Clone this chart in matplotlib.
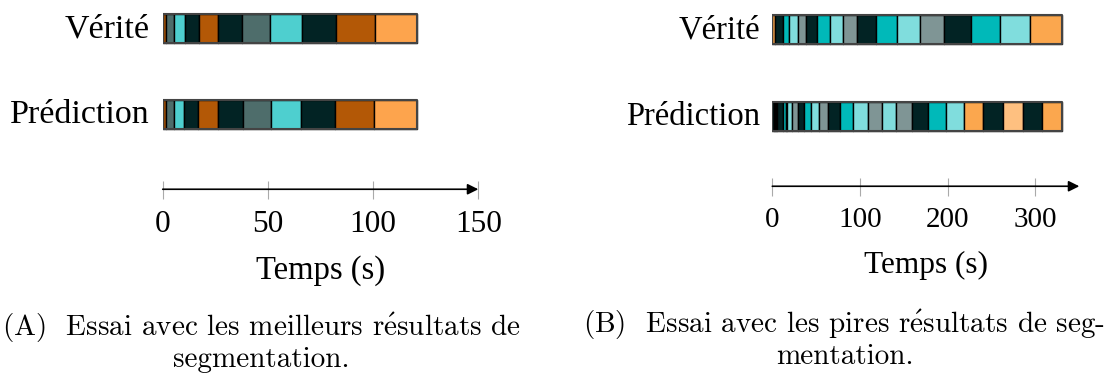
import matplotlib
matplotlib.use("Agg")
import matplotlib.pyplot as plt

plt.rcParams["mathtext.fontset"] = "cm"

W, H = 1114, 380

# colour of each class
colors_a = {"o": "#b35806", "g": "#4e6d6b", "c": "#4ecfcf", "d": "#022324", "l": "#fda44d"}
colors_b = {"o": "#fba74e", "d": "#022324", "c": "#00b9b9", "k": "#80dddd",
            "g": "#7f9595", "l": "#fec080"}

# panel A: best trial (segment boundaries in s, class of each segment)
truth_a_bounds = [0, 1.5, 5.2, 10.4, 17.3, 26.4, 37.8, 51, 66, 82.2, 100.9, 121]
truth_a_labels = ["o", "g", "c", "d", "o", "d", "g", "c", "d", "o", "l"]
pred_a_bounds = [0, 1.5, 5.2, 10.3, 17, 26.4, 38.1, 51.3, 65.8, 81.8, 100.6, 121]
pred_a_labels = ["o", "g", "c", "d", "o", "d", "g", "c", "d", "o", "l"]
ticks_a = [0, 50, 100, 150]

# panel B: worst trial
truth_b_bounds = [0, 2.7, 12, 19, 29, 38.5, 51.5, 65.5, 81, 97, 118, 142.5, 168, 196,
                  226.5, 260, 294, 330]
truth_b_labels = ["o", "d", "c", "k", "g", "d", "c", "k", "g", "d", "c", "k", "g", "d",
                  "c", "k", "o"]
pred_b_bounds = [0, 2.5, 3.5, 4.5, 5.5, 11.8, 15.6, 17.1, 22.5, 29, 36.5, 44.3, 53.4, 64,
                 77.6, 92, 108.7, 124.7, 141, 159, 178, 198, 219, 240.6, 262.7, 285.5,
                 307, 330]
pred_b_labels = ["d", "g", "d", "k", "d", "c", "d", "k", "g", "d", "c", "k", "g", "d",
                 "c", "k", "g", "k", "g", "d", "c", "k", "o", "d", "l", "d", "o"]
ticks_b = [0, 100, 200, 300]


def box(x0, y0, x1, y1):
    return [x0 / W, 1 - y1 / H, (x1 - x0) / W, (y1 - y0) / H]


def seg_bar(ax, bounds, labels, cmap, y, h):
    segs = [(bounds[i], bounds[i + 1] - bounds[i]) for i in range(len(labels))]
    ax.broken_barh(segs, (y, h), facecolors=[cmap[c] for c in labels],
                   edgecolor="black", linewidth=1.0)
    ax.broken_barh([(bounds[0], bounds[-1] - bounds[0])], (y, h),
                   facecolor="none", edgecolor="#444444", linewidth=1.5)


def panel(x0, x1, xmax, ticks, truth, pred, cmap, rows, axis_y,
          lab_size, tick_size, rowlab_x, xlab_pad):
    ax = fig.add_axes(box(x0, 0, x1, 160))
    ax.set_xlim(0, xmax)
    ax.set_ylim(160, 0)
    ax.axis("off")
    seg_bar(ax, truth[0], truth[1], cmap, rows[0][0], rows[0][1])
    seg_bar(ax, pred[0], pred[1], cmap, rows[1][0], rows[1][1])
    for (y, h), name in zip(rows, ["Vérité", "Prédiction"]):
        fig.text(rowlab_x / W, 1 - (y + h / 2 + 1) / H, name, ha="right", va="center",
                 family="Liberation Serif", fontsize=lab_size)

    tx = fig.add_axes(box(x0, axis_y, x1, axis_y + 0.5))
    tx.set_xlim(0, xmax)
    tx.set_yticks([])
    for s in tx.spines.values():
        s.set_visible(False)
    tx.set_xticks(ticks)
    tx.tick_params(axis="x", direction="inout", length=13, width=0.8, color="#aaaaaa",
                   labelsize=tick_size, pad=8)
    for t in tx.get_xticklabels():
        t.set_family("Liberation Serif")
    tx.set_xlabel("Temps (s)", family="Liberation Serif", fontsize=lab_size - 1,
                  labelpad=xlab_pad)
    tx.annotate("", xy=(xmax, 0.5), xytext=(0, 0.5), xycoords=("data", "axes fraction"),
                arrowprops=dict(arrowstyle="-|>", color="black", lw=1.2,
                                mutation_scale=16, shrinkA=0, shrinkB=0))


fig = plt.figure(figsize=(W / 100, H / 100), dpi=100)

panel(162.7, 478.3, 150, ticks_a, (truth_a_bounds, truth_a_labels),
      (pred_a_bounds, pred_a_labels), colors_a, [(13.5, 29), (99.5, 29)], 189,
      24.5, 22.5, 150, 12)
panel(772.3, 1079.3, 350, ticks_b, (truth_b_bounds, truth_b_labels),
      (pred_b_bounds, pred_b_labels), colors_b, [(14.5, 29), (101.5, 29)], 186,
      23.5, 21, 760, 13)

cap = dict(family="cmr10", fontsize=21, ha="center", va="center")
acc = r"$\mathrm{\acute{e}}$"
fig.text(261 / W, 1 - 328 / H, "(A)  Essai avec les meilleurs r" + acc + "sultats de", **cap)
fig.text(261 / W, 1 - 360 / H, "segmentation.", **cap)
fig.text(844 / W, 1 - 325 / H, "(B)  Essai avec les pires r" + acc + "sultats de seg-", **cap)
fig.text(845 / W, 1 - 357 / H, "mentation.", **cap)

fig.savefig("out.png", dpi=100)
